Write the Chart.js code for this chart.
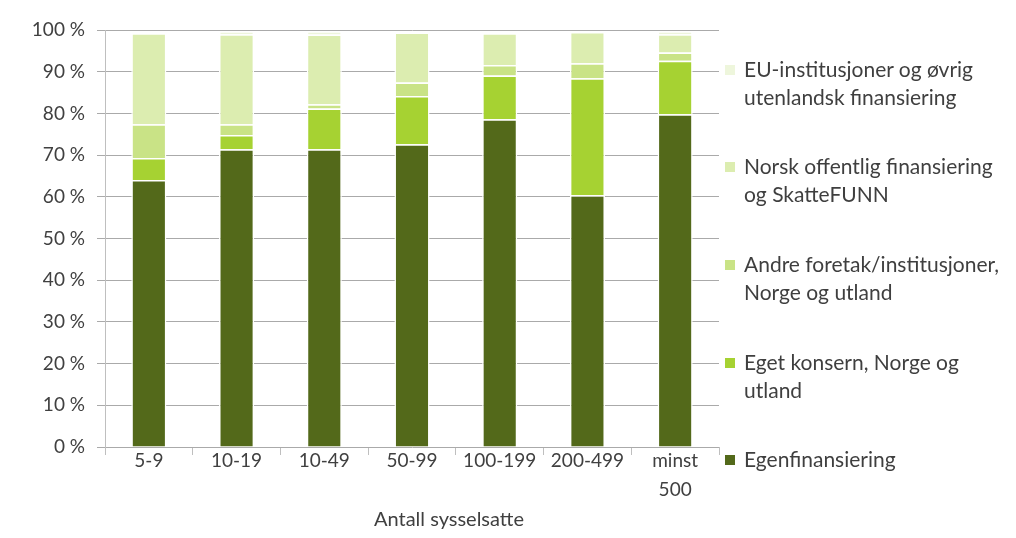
<!DOCTYPE html>
<html>
<head>
<meta charset="utf-8">
<script src="https://cdn.jsdelivr.net/npm/chart.js@4.4.0/dist/chart.umd.min.js"></script>
<style>
  html, body { margin: 0; padding: 0; background: #ffffff; }
  #wrap { position: relative; width: 1016px; height: 538px; }
  #c { position: absolute; left: 0; top: 0; }
  #legend { position: absolute; left: 0; top: 0; width: 1016px; height: 538px; pointer-events: none; }
  .item { position: absolute; left: 725px; font-family: Lato, sans-serif; font-size: 21px; line-height: 28px; color: #3f3f3f; }
  .sw { position: absolute; left: 0; top: 10px; width: 10px; height: 10px; }
  .tx { position: absolute; left: 19px; top: 0; white-space: nowrap; }
  #xtitle { position: absolute; left: 299px; width: 300px; top: 504px; text-align: center; font-family: Lato, sans-serif; font-size: 20px; line-height: 28px; color: #404040; }
</style>
</head>
<body>
<div id="wrap">
  <canvas id="c" width="1016" height="538"></canvas>
  <div id="legend"></div>
  <div id="xtitle"></div>
</div>
<script>
const categories = ['5-9', '10-19', '10-49', '50-99', '100-199', '200-499', ['minst', '500']];
const egenfinansiering = [64.0, 71.4, 71.4, 72.6, 78.6, 60.4, 79.8];
const egetKonsern      = [5.3, 3.4, 9.8, 11.6, 10.5, 28.0, 12.8];
const andreForetak     = [8.1, 2.6, 1.0, 3.2, 2.5, 3.6, 2.0];
const norskOffentlig   = [21.8, 21.6, 16.7, 12.0, 7.6, 7.5, 4.4];
const euUtenlandsk     = [0, 0.7, 0.8, 0, 0, 0, 0.7];
const yTicks = [0, 10, 20, 30, 40, 50, 60, 70, 80, 90, 100];
const xTitle = 'Antall sysselsatte';
const seriesNames = [
  'Egenfinansiering',
  'Eget konsern, Norge og utland',
  'Andre foretak/institusjoner, Norge og utland',
  'Norsk offentlig finansiering og SkatteFUNN',
  'EU-institusjoner og øvrig utenlandsk finansiering'
];
const legendLines = [
  ['Egenfinansiering'],
  ['Eget konsern, Norge og', 'utland'],
  ['Andre foretak/institusjoner,', 'Norge og utland'],
  ['Norsk offentlig finansiering', 'og SkatteFUNN'],
  ['EU-institusjoner og øvrig', 'utenlandsk finansiering']
];
const seriesColors = ['#53691a', '#a6d232', '#c9e386', '#dcedb0', '#eef6dc'];
const seriesValues = [egenfinansiering, egetKonsern, andreForetak, norskOffentlig, euUtenlandsk];

const textColor = '#404040';
const fontFamily = 'Lato, sans-serif';

const datasets = seriesValues.map((vals, i) => ({
  label: seriesNames[i],
  data: vals,
  backgroundColor: seriesColors[i],
  borderColor: '#ffffff',
  borderWidth: 1.5,
  borderSkipped: 'start',
  categoryPercentage: 1.0,
  barPercentage: 0.40
}));

new Chart(document.getElementById('c'), {
  type: 'bar',
  data: { labels: categories, datasets },
  options: {
    responsive: false,
    animation: false,
    devicePixelRatio: 1,
    layout: { padding: { left: 0, right: 297, top: 30, bottom: 0 } },
    plugins: { legend: { display: false }, tooltip: { enabled: false } },
    scales: {
      x: {
        stacked: true,
        grid: { display: true, drawOnChartArea: false, drawTicks: true, tickLength: 8, color: '#bfbfbf', offset: true },
        border: { display: false },
        ticks: { color: textColor, font: { family: fontFamily, size: 19, lineHeight: 1.53 }, padding: -9, maxRotation: 0, autoSkip: false },
        title: { display: false },
        afterFit: (s) => { s.height = 91; }
      },
      y: {
        stacked: true,
        min: 0, max: 100,
        afterBuildTicks: (s) => { s.ticks = yTicks.map(v => ({ value: v })); },
        grid: { color: '#aaaaaa', lineWidth: 1, tickLength: 8, drawTicks: true },
        border: { display: true, color: '#bfbfbf', width: 1 },
        ticks: { color: textColor, font: { family: fontFamily, size: 19 }, padding: 12, callback: (v) => v + ' %' },
        afterFit: (s) => { s.width = 105; }
      }
    }
  }
});

document.getElementById('xtitle').textContent = xTitle;

// HTML legend (reverse order, EU on top)
const legendTops = [445, 348, 250, 152, 55];
const lg = document.getElementById('legend');
for (let i = seriesNames.length - 1; i >= 0; i--) {
  const d = document.createElement('div');
  d.className = 'item';
  d.style.top = legendTops[i] + 'px';
  const sw = document.createElement('div');
  sw.className = 'sw';
  sw.style.background = seriesColors[i];
  const tx = document.createElement('div');
  tx.className = 'tx';
  tx.innerHTML = legendLines[i].join('<br>');
  d.appendChild(sw); d.appendChild(tx);
  lg.appendChild(d);
}
</script>
</body>
</html>
